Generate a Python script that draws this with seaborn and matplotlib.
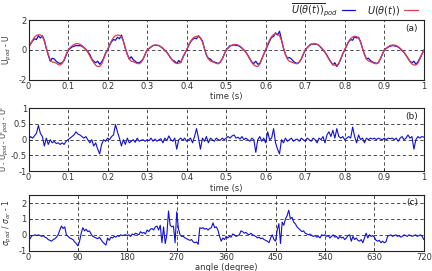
import numpy as np
import pandas as pd
import matplotlib
matplotlib.use("Agg")
import matplotlib.pyplot as plt
import seaborn as sns

# time grid (s) for panels (a) and (b), angle grid (degree) for panel (c)
time_s = np.round(np.arange(0, 1.0001, 0.005), 3)
angle_deg = np.arange(0, 721, 3)

# panel (a): reconstructed velocity U(theta(t)) (red)
u_theta = [
    0.15, 0.4, 0.65, 0.85, 0.97, 1.02, 1.0, 0.9, 0.6, 0.15,
    -0.3, -0.65, -0.8, -0.82, -0.88, -0.97, -1.0, -0.9, -0.65, -0.3,
    0.0, 0.15, 0.28, 0.37, 0.42, 0.43, 0.38, 0.3, 0.18, 0.02,
    -0.15, -0.4, -0.65, -0.85, -1.02, -1.1, -1.1, -0.95, -0.6, -0.25,
    0.02, 0.35, 0.62, 0.83, 0.96, 1.0, 0.98, 0.88, 0.58, 0.12,
    -0.3, -0.62, -0.75, -0.78, -0.84, -0.9, -0.92, -0.82, -0.6, -0.28,
    0.0, 0.12, 0.22, 0.3, 0.33, 0.33, 0.3, 0.22, 0.12, -0.02,
    -0.15, -0.35, -0.55, -0.72, -0.85, -0.9, -0.9, -0.8, -0.55, -0.25,
    0.02, 0.32, 0.58, 0.76, 0.87, 0.92, 0.9, 0.8, 0.52, 0.1,
    -0.3, -0.6, -0.74, -0.78, -0.83, -0.9, -0.92, -0.82, -0.6, -0.28,
    0.0, 0.13, 0.25, 0.33, 0.37, 0.37, 0.33, 0.25, 0.14, 0.0,
    -0.15, -0.38, -0.62, -0.84, -1.0, -1.08, -1.1, -0.95, -0.62, -0.27,
    0.02, 0.38, 0.68, 0.9, 1.03, 1.1, 1.08, 0.96, 0.64, 0.15,
    -0.3, -0.62, -0.76, -0.8, -0.85, -0.9, -0.92, -0.82, -0.6, -0.28,
    0.0, 0.15, 0.28, 0.37, 0.41, 0.42, 0.38, 0.3, 0.18, 0.03,
    -0.15, -0.38, -0.62, -0.82, -0.96, -1.02, -1.02, -0.9, -0.58, -0.25,
    0.02, 0.32, 0.58, 0.76, 0.87, 0.92, 0.9, 0.8, 0.52, 0.1,
    -0.3, -0.6, -0.74, -0.78, -0.83, -0.9, -0.92, -0.82, -0.6, -0.28,
    0.0, 0.12, 0.22, 0.3, 0.33, 0.33, 0.3, 0.22, 0.12, -0.02,
    -0.15, -0.36, -0.58, -0.78, -0.93, -1.0, -1.0, -0.88, -0.6, -0.3,
    0.0,
]

# panel (a): POD phase-averaged velocity (blue)
u_pod = [
    0.2, 0.4, 0.6, 0.75, 0.7, 0.95, 0.8, 0.95, 0.65, 0.1,
    -0.35, -0.75, -0.55, -0.6, -0.75, -0.85, -0.9, -0.85, -0.7, -0.35,
    -0.05, 0.1, 0.2, 0.25, 0.3, 0.28, 0.3, 0.25, 0.15, 0.05,
    -0.1, -0.3, -0.6, -0.75, -0.85, -0.75, -0.95, -0.8, -0.55, -0.2,
    0.0, 0.3, 0.55, 0.7, 0.65, 0.85, 0.75, 1.0, 0.6, 0.1,
    -0.3, -0.6, -0.45, -0.65, -0.75, -0.85, -0.85, -0.75, -0.6, -0.3,
    0.0, 0.1, 0.2, 0.3, 0.32, 0.3, 0.3, 0.2, 0.1, -0.05,
    -0.15, -0.35, -0.55, -0.7, -0.75, -0.9, -0.7, -0.85, -0.5, -0.25,
    0.0, 0.3, 0.55, 0.7, 0.8, 0.75, 0.95, 0.8, 0.6, 0.1,
    -0.35, -0.55, -0.6, -0.75, -0.8, -0.85, -0.9, -0.8, -0.6, -0.3,
    0.0, 0.15, 0.3, 0.3, 0.35, 0.3, 0.3, 0.22, 0.12, 0.0,
    -0.15, -0.35, -0.6, -0.8, -0.9, -0.75, -0.95, -0.9, -0.6, -0.3,
    0.0, 0.3, 0.6, 0.85, 0.9, 1.15, 1.0, 1.25, 0.7, 0.1,
    -0.3, -0.55, -0.5, -0.6, -0.75, -0.85, -0.9, -0.8, -0.6, -0.3,
    0.0, 0.15, 0.3, 0.4, 0.38, 0.4, 0.38, 0.3, 0.15, 0.0,
    -0.15, -0.35, -0.6, -0.8, -1.0, -0.85, -1.1, -0.9, -0.6, -0.25,
    0.0, 0.3, 0.55, 0.7, 0.65, 0.9, 0.8, 0.85, 0.55, 0.1,
    -0.3, -0.6, -0.55, -0.7, -0.8, -0.85, -0.9, -0.85, -0.6, -0.3,
    0.0, 0.1, 0.2, 0.25, 0.3, 0.28, 0.25, 0.2, 0.1, -0.05,
    -0.15, -0.35, -0.55, -0.75, -0.85, -0.75, -0.95, -0.8, -0.55, -0.3,
    0.0,
]

# panel (b): residual fluctuation
residual = [
    0.0, 0.1, 0.05, 0.12, 0.2, 0.45, 0.2, 0.1, -0.2, 0.05,
    -0.15, 0.0, -0.1, -0.05, -0.12, -0.1, -0.15, -0.1, -0.15, -0.05,
    0.0, 0.05, 0.1, 0.15, 0.25, 0.18, 0.15, 0.1, 0.05, 0.1,
    0.0, -0.1, 0.0, -0.2, -0.1, -0.3, -0.45, -0.15, 0.0, -0.05,
    0.05, 0.0, 0.1, 0.15, 0.48, 0.25, 0.05, -0.2, 0.0, -0.15,
    0.05, -0.1, -0.05, 0.0, -0.08, 0.05, -0.05, -0.02, 0.0, -0.05,
    0.0, -0.03, 0.05, -0.05, 0.02, -0.05, 0.0, 0.03, -0.1, 0.05,
    -0.03, 0.12, 0.0, -0.05, 0.05, -0.3, 0.0, 0.05, -0.02, 0.05,
    -0.05, 0.0, 0.05, -0.1, 0.1, 0.35, 0.05, -0.3, 0.05, -0.05,
    0.1, -0.1, 0.05, 0.0, -0.05, 0.05, 0.0, -0.02, 0.05, 0.0,
    0.05, 0.1, 0.05, 0.12, 0.15, 0.05, 0.08, 0.02, 0.1, 0.0,
    0.05, 0.0, -0.05, 0.05, 0.0, -0.4, 0.0, 0.1, -0.05, 0.05,
    -0.1, 0.25, 0.0, 0.05, 0.35, -0.1, -0.3, -0.45, 0.0, -0.1,
    0.05, -0.05, 0.0, 0.05, -0.05, 0.0, 0.02, -0.05, 0.05, 0.0,
    -0.05, 0.05, 0.0, -0.05, 0.05, 0.0, -0.1, 0.05, 0.0, 0.1,
    -0.1, 0.15, 0.25, 0.1, 0.3, 0.05, 0.35, 0.1, 0.05, 0.1,
    0.0, 0.05, 0.1, 0.05, 0.4, 0.1, -0.1, 0.15, 0.0, 0.05,
    -0.1, 0.05, 0.0, 0.05, 0.02, 0.05, 0.0, 0.05, 0.02, 0.0,
    0.05, 0.0, 0.05, 0.03, 0.05, 0.0, 0.05, -0.05, 0.05, 0.1,
    0.0, 0.05, 0.15, 0.05, 0.1, -0.3, 0.0, 0.1, 0.05, 0.1,
    0.08,
]

# panel (c): sigma_pod / sigma_or - 1 against phase angle
sigma_ratio = [
    -0.1, -0.25, -0.05, -0.05, 0.0, -0.05, 0.0, -0.05, -0.1, -0.05,
    -0.15, -0.2, -0.3, -0.35, -0.4, -0.3, -0.25, -0.15, 0.0, 0.3,
    0.55, 0.4, 0.5, 0.0, -0.1, -0.2, -0.25, -0.3, -0.45, -0.55,
    -0.7, -0.4, 0.1, 0.45, 0.25, 0.35, 0.2, 0.25, 0.05, -0.1,
    -0.15, -0.2, -0.25, -0.15, -0.3, -0.45, -0.55, -0.65, -0.2, -0.35,
    -0.15, -0.2, -0.1, -0.15, -0.05, -0.1, 0.0, -0.05, -0.02, 0.0,
    -0.05, 0.0, -0.1, 0.05, 0.0, 0.1, 0.05, 0.0, 0.2, 0.1,
    0.15, 0.05, 0.3, 0.2, 0.35, 0.4, 0.3, 0.5, 0.55, 0.3,
    0.6, -0.5, 0.5, -0.55, 0.0, 1.5, 0.6, 0.5, 0.55, -0.5,
    1.45, 0.4, 0.0, -0.1, -0.1, -0.2, -0.25, -0.3, -0.35, -0.3,
    -0.45, -0.5, -0.45, -0.6, 0.45, 0.4, 0.45, 0.35, 0.4, 0.3,
    0.4, 0.45, 0.75, 0.45, 0.5, 0.3, -0.1, -0.4, -0.2, -0.3,
    -0.1, -0.2, -0.1, -0.15, 0.05, 0.0, -0.1, -0.05, 0.0, 0.25,
    0.2, 0.1, 0.15, 0.05, 0.0, 0.1, 0.0, -0.05, -0.1, -0.2,
    -0.15, -0.25, -0.2, -0.3, -0.35, -0.4, -0.5, -0.2, 0.0, -0.3,
    -0.4, 0.3, 0.7, -0.55, 0.8, 0.6, 1.0, 1.2, 1.55, 1.0,
    1.1, 0.8, 0.7, 0.5, 0.4, 0.3, 0.2, 0.25, 0.1, 0.05,
    0.0, 0.05, -0.05, -0.1, -0.05, -0.15, -0.1, -0.2, 0.0, -0.05,
    0.0, -0.1, -0.05, -0.2, -0.1, 0.0, -0.15, -0.1, -0.25, -0.1,
    -0.2, -0.15, -0.3, -0.2, -0.05, 0.0, -0.4, -0.1, -0.3, -0.2,
    -0.35, -0.4, -0.3, -0.5, -0.2, 0.1, -0.2, 0.0, -0.1, -0.05,
    -0.15, -0.35, -0.4, -0.35, -0.5, -0.4, -0.5, -0.45, -0.1, -0.05,
    0.0, -0.1, -0.05, 0.0, -0.1, -0.05, -0.15, -0.1, 0.0, -0.05,
    -0.1, 0.0, -0.05, -0.1, -0.05, 0.0, -0.1, -0.05, 0.0, -0.1,
    -0.3,
]

time_ticks = [0, 0.1, 0.2, 0.3, 0.4, 0.5, 0.6, 0.7, 0.8, 0.9, 1]
time_labels = ["0", "0.1", "0.2", "0.3", "0.4", "0.5", "0.6", "0.7", "0.8", "0.9", "1"]
angle_ticks = [0, 90, 180, 270, 360, 450, 540, 630, 720]

BLUE = "#1010d0"
RED = "#e23a52"
FS = 6


def style_axis(ax, xticks, xlabels, yticks, ylabels, ylim, xlim, tag, label_x):
    ax.set_xlim(*xlim)
    ax.set_ylim(*ylim)
    ax.set_xticks(xticks)
    ax.set_xticklabels(xlabels)
    ax.set_yticks(yticks)
    ax.set_yticklabels(ylabels)
    ax.tick_params(direction="in", length=2, width=0.6, labelsize=FS, pad=1.5,
                   colors="#333333")
    ax.grid(True, linestyle=(0, (4, 3)), color="#333333", linewidth=0.6)
    for side in ax.spines.values():
        side.set_linewidth(0.8)
        side.set_color("#222222")
    ax.text(0.985, 0.86, tag, transform=ax.transAxes, ha="right", va="center",
            fontsize=FS + 0.5, color="#222222")
    ax.yaxis.set_label_coords(label_x, 0.5)


def main():
    sns.set_theme(style="ticks")
    plt.rcParams["font.family"] = ["DejaVu Sans"]

    df_a = pd.DataFrame({"t": time_s, "pod": u_pod, "orig": u_theta})
    df_b = pd.DataFrame({"t": time_s, "res": residual})
    df_c = pd.DataFrame({"angle": angle_deg, "ratio": sigma_ratio})

    fig = plt.figure(figsize=(4.32, 2.71), dpi=100)
    ax_a = fig.add_axes([0.066, 0.705, 0.915, 0.221])
    ax_b = fig.add_axes([0.066, 0.368, 0.915, 0.233])
    ax_c = fig.add_axes([0.066, 0.075, 0.915, 0.205])

    # (a)
    sns.lineplot(data=df_a, x="t", y="pod", ax=ax_a, color=BLUE, linewidth=0.9,
                 label=r"$\overline{U(\theta(t))}_{pod}$")
    sns.lineplot(data=df_a, x="t", y="orig", ax=ax_a, color=RED, linewidth=0.9,
                 label=r"$U(\theta(t))$")
    style_axis(ax_a, time_ticks, time_labels, [-2, 0, 2], ["-2", "0", "2"],
               (-2, 2), (0, 1), "(a)", -0.036)
    ax_a.set_xlabel("time (s)", fontsize=FS, labelpad=1, color="#333333")
    ax_a.set_ylabel("U$_{pod}$ - U", fontsize=FS - 0.5, color="#333333")
    ax_a.legend(loc="lower right", bbox_to_anchor=(0.99, 1.0), ncol=2,
                markerfirst=False, frameon=False, fontsize=7, handlelength=1.4,
                columnspacing=1.2, handletextpad=0.4, borderaxespad=0.1,
                borderpad=0.1)

    # (b)
    sns.lineplot(data=df_b, x="t", y="res", ax=ax_b, color=BLUE, linewidth=0.8)
    style_axis(ax_b, time_ticks, time_labels, [-1, -0.5, 0, 0.5, 1],
               ["-1", "-0.5", "0", "0.5", "1"], (-1, 1), (0, 1), "(b)", -0.045)
    ax_b.tick_params(axis="y", pad=1)
    ax_b.set_xlabel("time (s)", fontsize=FS, labelpad=1, color="#333333")
    ax_b.set_ylabel("U - U$_{pod}$ - U'$_{pod}$ - U'", fontsize=FS - 1,
                    color="#333333")

    # (c)
    sns.lineplot(data=df_c, x="angle", y="ratio", ax=ax_c, color=BLUE, linewidth=0.8)
    style_axis(ax_c, angle_ticks, [str(a) for a in angle_ticks], [-1, 0, 1, 2],
               ["-1", "0", "1", "2"], (-1, 2.5), (0, 720), "(c)", -0.036)
    ax_c.set_xlabel("angle (degree)", fontsize=FS, labelpad=1, color="#333333")
    ax_c.set_ylabel(r"$\sigma_{pod}$ / $\sigma_{or}$ - 1", fontsize=FS - 0.5,
                    color="#333333")

    fig.savefig("out.png", dpi=100)


if __name__ == "__main__":
    main()
